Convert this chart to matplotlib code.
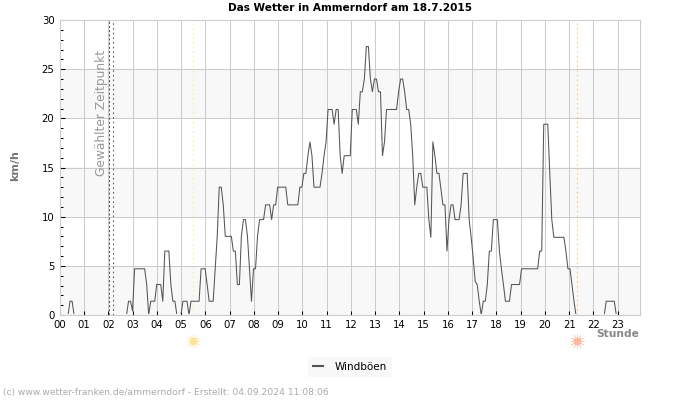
import matplotlib
matplotlib.use('Agg')
import matplotlib.pyplot as plt
from matplotlib.patches import Rectangle
import numpy as np

# Windböen in km/h, one value about every 5 minutes
gusts_by_hour = [
    [0, 0, 0, 0, 0, 1.4, 1.4, 0, 0, 0, 0, 0],
    [0, 0, 0, 0, 0, 0, 0, 0, 0, 0, 0, 0],
    [0, 0, 0, 0, 0, 0, 0, 0, 0, 0, 1.4, 1.4],
    [0.4, 4.7, 4.7, 4.7, 4.7, 4.7, 4.7, 3.1, 0, 1.4, 1.4, 1.4],
    [3.1, 3.1, 3.1, 1.4, 6.5, 6.5, 6.5, 3.1, 1.4, 1.4, 0, 0],
    [0, 1.4, 1.4, 1.4, 0, 1.4, 1.4, 1.4, 1.4, 1.4, 4.7, 4.7],
    [4.7, 3.1, 1.4, 1.4, 1.4, 4.7, 8, 13, 13, 11.2, 8, 8],
    [8, 8, 6.5, 6.5, 3.1, 3.1, 8, 9.7, 9.7, 8, 4.7, 1.4],
    [4.7, 4.7, 8, 9.7, 9.7, 9.7, 11.2, 11.2, 11.2, 9.7, 11.2, 11.2],
    [13, 13, 13, 13, 13, 11.2, 11.2, 11.2, 11.2, 11.2, 11.2, 13],
    [13, 14.4, 14.4, 16.2, 17.6, 16.2, 13, 13, 13, 13, 14.4, 16.2],
    [17.6, 20.9, 20.9, 20.9, 19.4, 20.9, 20.9, 16.2, 14.4, 16.2, 16.2, 16.2],
    [16.2, 20.9, 20.9, 20.9, 19.4, 22.7, 22.7, 24, 27.3, 27.3, 24, 22.7],
    [24, 24, 22.7, 22.7, 16.2, 17.6, 20.9, 20.9, 20.9, 20.9, 20.9, 20.9],
    [22.7, 24, 24, 22.7, 20.9, 20.9, 19.4, 16.2, 11.2, 13, 14.4, 14.4],
    [13, 13, 13, 9.7, 7.9, 17.6, 16.2, 14.4, 14.4, 12.8, 11.2, 11.2],
    [6.5, 9.7, 11.2, 11.2, 9.7, 9.7, 9.7, 11.2, 14.4, 14.4, 14.4, 9.7],
    [7.9, 5.8, 3.4, 3.1, 1.4, 0, 1.4, 1.4, 3.1, 6.5, 6.5, 9.7],
    [9.7, 9.7, 6.5, 4.7, 3.1, 1.4, 1.4, 1.4, 3.1, 3.1, 3.1, 3.1],
    [3.1, 4.7, 4.7, 4.7, 4.7, 4.7, 4.7, 4.7, 4.7, 4.7, 6.5, 6.5],
    [19.4, 19.4, 19.4, 14.4, 9.7, 7.9, 7.9, 7.9, 7.9, 7.9, 7.9, 6.5],
    [4.7, 4.7, 3.1, 1.4, 0, 0, 0, 0, 0, 0, 0, 0],
    [0, 0, 0, 0, 0, 0, 0, 1.4, 1.4, 1.4, 1.4, 1.4],
    [0, 0, 0, 0, 0, 0, 0, 0, 0, 0, 0, 0],
]
hour_labels = [f'{h:02d}' for h in range(24)]
selected_time = 2.01
selected_time_end = 2.18
sunrise = 5.48
sunset = 21.33

gusts = np.array(gusts_by_hour).ravel()
hours = np.arange(len(gusts)) / 12.03

plt.rcParams['font.family'] = 'DejaVu Sans'
fig = plt.figure(figsize=(7, 4), dpi=100)
ax = fig.add_axes([60 / 700, 1 - 315 / 400, 580 / 700, 295 / 400])

ax.set_xlim(0, 23.92)
ax.set_ylim(0, 30)

# alternating bands
for low in [0, 10, 20]:
    ax.axhspan(low, low + 5, color='#f8f8f8', lw=0, zorder=0)

ax.set_xticks(range(24))
ax.set_xticklabels(hour_labels)
ax.set_yticks(range(0, 31, 5))
ax.set_yticks(range(0, 31), minor=True)
ax.grid(True, which='major', color='#cccccc', lw=0.75, zorder=1)
ax.set_axisbelow(True)
ax.tick_params(axis='x', direction='in', length=3, width=0.75, labelsize=7.3, pad=3.5, color='black')
ax.tick_params(axis='y', which='major', direction='in', length=3.6, width=0.75, labelsize=7.3, pad=4)
ax.tick_params(axis='y', which='minor', direction='in', length=2.5, width=0.75)
for spine in ax.spines.values():
    spine.set_color('#cccccc')
    spine.set_linewidth(0.75)
    spine.set_zorder(5)

ax.axvline(selected_time, color='#555555', lw=0.75, ls=(0, (2, 2)), zorder=2)
ax.axvline(selected_time_end, color='#555555', lw=0.75, ls=(0, (1.5, 3)), zorder=2)
ax.axvline(sunrise, color='#f7e9a0', lw=0.75, ls=(0, (1.5, 3)), zorder=2)
ax.axvline(sunset, color='#f8c48a', lw=0.75, ls=(0, (1.5, 3)), zorder=2)

line, = ax.plot(hours, gusts, color='#555555', lw=0.75, zorder=3, label='Windböen')
# the zero level stays hidden behind the axis line
line.set_clip_path(Rectangle((0, 0.1), 24, 30, transform=ax.transData))

ax.text(1.72, 14.1, 'Gewählter Zeitpunkt', rotation=90, color='#999999', fontsize=8.8,
        ha='center', va='bottom')

# sun icons below the axis
sun_transform = ax.get_xaxis_transform()
for when, color in [(sunrise, '#fde3a0'), (sunset, '#fdb8a0')]:
    ax.plot(when, -0.0885, marker=(12, 2, 0), ms=10, mew=0.6, color=color, alpha=0.7,
            transform=sun_transform, clip_on=False)
    ax.plot(when, -0.0885, marker='o', ms=5.5, mew=0, color=color,
            transform=sun_transform, clip_on=False)

fig.text(349.5 / 700, 1 - 8 / 400, 'Das Wetter in Ammerndorf am 18.7.2015', fontsize=7.55,
         fontweight='bold', ha='center', va='center')
fig.text(15 / 700, 1 - 166 / 400, 'km/h', fontsize=8, fontweight='bold', color='#777777',
         rotation=90, ha='center', va='center')
fig.text(639.5 / 700, 1 - 334 / 400, 'Stunde', fontsize=7.7, fontweight='bold', color='#888888',
         ha='right', va='center')
fig.text(3 / 700, 1 - 393 / 400, '(c) www.wetter-franken.de/ammerndorf - Erstellt: 04.09.2024 11:08:06',
         fontsize=6.6, color='#aaaaaa', ha='left', va='center')

leg = fig.legend(handles=[line], loc='center', bbox_to_anchor=(350 / 700, 1 - 367 / 400), fontsize=7.5,
                 frameon=True, facecolor='#f8f8f8', edgecolor='none', fancybox=False, framealpha=1,
                 handlelength=1.0, handletextpad=1.1, borderpad=0.5, borderaxespad=0)
leg.get_lines()[0].set_linewidth(1.5)

fig.savefig('out.png', dpi=100)
